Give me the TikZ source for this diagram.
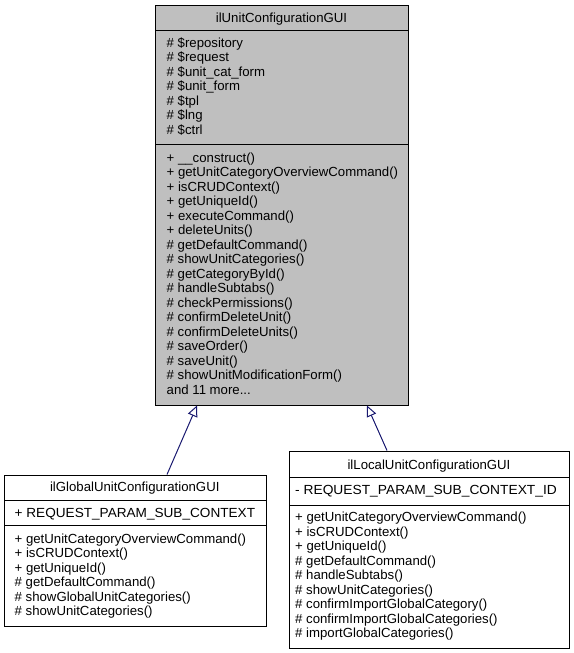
\documentclass[tikz,border=0pt]{standalone}
\usepackage{fontspec}
\usepackage{graphicx}
\setmainfont{Liberation Sans}
\usetikzlibrary{arrows.meta}
\definecolor{edgeblue}{RGB}{25,25,112}
\definecolor{boxgrey}{RGB}{191,191,191}
\begin{document}
\begin{tikzpicture}[x=1pt,y=-1pt,
  cbox/.style={draw=black, line width=1pt, anchor=north west, inner sep=0pt},
  txt/.style={anchor=base west, inner sep=0pt, font=\fontsize{13.2}{14.5}\selectfont},
  ttl/.style={anchor=base, inner sep=0pt, font=\fontsize{13.2}{14.5}\selectfont},
  divider/.style={draw=black, line width=1pt},
  inh/.style={draw=edgeblue, line width=1pt, -{Triangle[open, length=11pt, width=10pt]}}]
\useasboundingbox (0,0) rectangle (573,653);

% ---------- main class ----------
\node[cbox, fill=boxgrey, minimum width=253pt, minimum height=399.5pt] (main) at (155,5) {};
\draw[divider] (main.north west) ++(0,25) -- ++(253,0);
\draw[divider] (main.north west) ++(0,139.5) -- ++(253,0);
\node[ttl] (mainT) at (281.5,22.5) {ilUnitConfigurationGUI};
\foreach \t [count=\i] in {\# \$repository, \# \$request, \# \$unit\_cat\_form, \# \$unit\_form, \# \$tpl, \# \$lng, \# \$ctrl}
  \node[txt] (mainA\i) at (166.5,{47+14.5*(\i-1)}) {\t};
\foreach \t [count=\i] in {+ \_\_construct(), + getUnitCategoryOverviewCommand(), + isCRUDContext(), + getUniqueId(), + executeCommand(), + deleteUnits(), \# getDefaultCommand(), \# showUnitCategories(), \# getCategoryById(), \# handleSubtabs(), \# checkPermissions(), \# confirmDeleteUnit(), \# confirmDeleteUnits(), \# saveOrder(), \# saveUnit(), \# showUnitModificationForm()}
  \node[txt] (mainM\i) at (166.5,{162+14.5*(\i-1)}) {\t};
\node[txt] (mainMore) at (166.5,394) {and 11 more...};

% ---------- global class ----------
\node[cbox, fill=white, minimum width=261.5pt, minimum height=151.5pt] (glob) at (4,474.5) {};
\draw[divider] (glob.north west) ++(0,25.5) -- ++(261.5,0);
\draw[divider] (glob.north west) ++(0,51) -- ++(261.5,0);
\node[ttl] (globT) at (134.75,491.5) {ilGlobalUnitConfigurationGUI};
\node[txt] (globA1) at (14.5,517.5) {\scalebox{1.03}[1]{+ REQUEST\_PARAM\_SUB\_CONTEXT}};
\foreach \t [count=\i] in {+ getUnitCategoryOverviewCommand(), + isCRUDContext(), + getUniqueId(), \# getDefaultCommand(), \# showGlobalUnitCategories(), \# showUnitCategories()}
  \node[txt] (globM\i) at (14.5,{543+14.5*(\i-1)}) {\t};

% ---------- local class ----------
\node[cbox, fill=white, minimum width=280pt, minimum height=197pt] (loc) at (289,450.5) {};
\draw[divider] (loc.north west) ++(0,27) -- ++(280,0);
\draw[divider] (loc.north west) ++(0,54.5) -- ++(280,0);
\node[ttl] (locT) at (429,469) {ilLocalUnitConfigurationGUI};
\node[txt] (locA1) at (295,494.5) {\scalebox{1.044}[1]{- REQUEST\_PARAM\_SUB\_CONTEXT\_ID}};
\foreach \t [count=\i] in {+ getUnitCategoryOverviewCommand(), + isCRUDContext(), + getUniqueId(), \# getDefaultCommand(), \# handleSubtabs(), \# showUnitCategories(), \# confirmImportGlobalCategory(), \# confirmImportGlobalCategories(), \# importGlobalCategories()}
  \node[txt] (locM\i) at (295,{521.5+14.5*(\i-1)}) {\t};

% ---------- inheritance ----------
\coordinate (gbase) at (glob.north -| 167,0);
\coordinate (gtip) at (main.south -| 197,0);
\coordinate (lbase) at (loc.north -| 387,0);
\coordinate (ltip) at (main.south -| 367,0);
\draw[inh] (gbase) -- (gtip);
\draw[inh] (lbase) -- (ltip);
\end{tikzpicture}
\end{document}
